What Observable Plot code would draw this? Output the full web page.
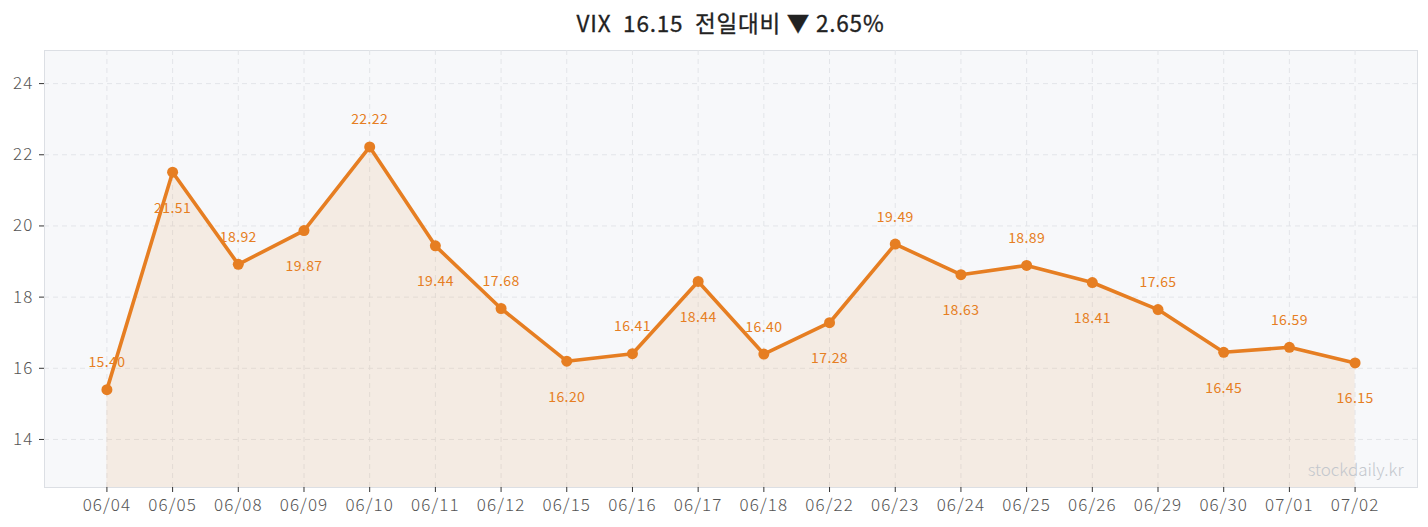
<!DOCTYPE html>
<html>
<head>
<meta charset="utf-8">
<script src="https://cdn.jsdelivr.net/npm/d3@7"></script>
<script src="https://cdn.jsdelivr.net/npm/@observablehq/plot@0.6"></script>
<style>
  html, body { margin: 0; padding: 0; background: #fff; }
  body { width: 1428px; height: 527px; overflow: hidden; font-family: "Noto Sans CJK KR", "Noto Sans", sans-serif; }
  #title { height: 44px; line-height: 44px; text-align: center; padding: 0 11px 0 44px; font-size: 22.5px; font-weight: 400; color: #222; letter-spacing: 0.8px; white-space: pre; -webkit-text-stroke: 0.3px #222; }
  svg g[aria-label="x-axis tick label"], svg g[aria-label="y-axis tick label"] { letter-spacing: 1.1px; }
  svg g.vlabels { letter-spacing: 0.4px; }
</style>
</head>
<body>
<div id="title">VIX  16.15  전일대비 ▼ 2.65%</div>
<div id="chart"></div>
<script>
const dates = ["06/04","06/05","06/08","06/09","06/10","06/11","06/12","06/15","06/16","06/17","06/18","06/22","06/23","06/24","06/25","06/26","06/29","06/30","07/01","07/02"];
const values = [15.40,21.51,18.92,19.87,22.22,19.44,17.68,16.20,16.41,18.44,16.40,17.28,19.49,18.63,18.89,18.41,17.65,16.45,16.59,16.15];
const yTicks = [14,16,18,20,22,24];
const yDomain = [12.65, 24.93];

const data = dates.map((d, i) => ({date: d, value: values[i], i}));
const above = data.filter(d => d.i % 2 === 0);
const below = data.filter(d => d.i % 2 === 1);
const orange = "#e67e22";

const chart = Plot.plot({
  width: 1428,
  height: 483,
  marginTop: 6,
  marginBottom: 40,
  marginLeft: 44,
  marginRight: 11,
  style: { fontFamily: "'Noto Sans CJK KR', 'Noto Sans', sans-serif", background: "transparent", fontWeight: 300 },
  x: { type: "point", domain: dates, padding: 0.95, round: false, label: null },
  y: { domain: yDomain, ticks: yTicks, label: null },
  marks: [
    Plot.frame({ fill: "#f7f8fa", stroke: "#dcdfe4" }),
    Plot.gridX(dates, { stroke: "#e3e5e9", strokeOpacity: 1, strokeDasharray: "5,4" }),
    Plot.gridY(yTicks, { stroke: "#e3e5e9", strokeOpacity: 1, strokeDasharray: "5,4" }),
    Plot.areaY(data, { x: "date", y1: yDomain[0], y2: "value", fill: orange, fillOpacity: 0.1, curve: "linear" }),
    Plot.lineY(data, { x: "date", y: "value", stroke: orange, strokeWidth: 3.6, curve: "linear" }),
    Plot.dot(data, { x: "date", y: "value", r: 5.5, fill: orange, stroke: null }),
    Plot.text(above, { x: "date", y: "value", text: d => d.value.toFixed(2), dy: -27, fill: orange, fontSize: 14, fontWeight: 400, className: "vlabels" }),
    Plot.text(below, { x: "date", y: "value", text: d => d.value.toFixed(2), dy: 36, fill: orange, fontSize: 14, fontWeight: 400, className: "vlabels" }),
    Plot.text(["stockdaily.kr"], { frameAnchor: "bottom-right", dx: -14, dy: -12, fill: "#c3c7cd", fontSize: 17 }),
    Plot.axisX({ tickSize: 5, tickPadding: 6, fontSize: 17, color: "#555" }),
    Plot.axisY({ ticks: yTicks, tickSize: 5, tickPadding: 6, fontSize: 17, color: "#555" })
  ]
});
chart.querySelectorAll('[aria-label="x-axis tick"], [aria-label="y-axis tick"]').forEach(g => g.setAttribute("stroke", "#333"));
document.getElementById("chart").appendChild(chart);
</script>
</body>
</html>
